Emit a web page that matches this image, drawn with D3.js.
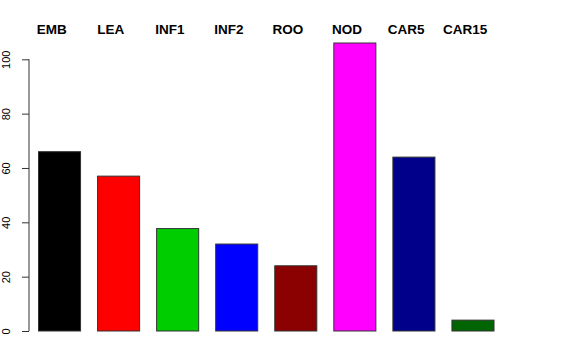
<!DOCTYPE html>
<html>
<head>
<meta charset="utf-8">
<script src="https://cdn.jsdelivr.net/npm/d3@7"></script>
<style>
  html, body { margin: 0; padding: 0; background: #ffffff; }
  svg { display: block; }
</style>
</head>
<body>
<div id="chart"></div>
<script>
const categories = ["EMB", "LEA", "INF1", "INF2", "ROO", "NOD", "CAR5", "CAR15"];
const values = [66, 57, 37.7, 32, 24, 106, 64, 4];
const colors = ["#000000", "#FF0000", "#00CD00", "#0000FF", "#8B0000", "#FF00FF", "#00008B", "#006400"];
const yTicks = [0, 20, 40, 60, 80, 100];

const W = 576, H = 360;
const svg = d3.select("#chart").append("svg")
  .attr("width", W).attr("height", H);

const x = d3.scaleBand()
  .domain(categories)
  .range([38.5, 494])
  .paddingInner(0.288)
  .paddingOuter(0);

const y = d3.scaleLinear()
  .domain([0, 100])
  .range([331, 59.3]);

// bars
svg.append("g").selectAll("rect")
  .data(categories)
  .join("rect")
  .attr("x", d => x(d))
  .attr("width", x.bandwidth())
  .attr("y", (d, i) => y(values[i]))
  .attr("height", (d, i) => y(0) - y(values[i]))
  .attr("fill", (d, i) => colors[i])
  .attr("stroke", "#333333")
  .attr("stroke-width", 1);

// y axis
const axis = d3.axisLeft(y).tickValues(yTicks).tickSize(7).tickPadding(0).tickFormat(d3.format("d"));
const gAxis = svg.append("g")
  .attr("transform", "translate(29,0)")
  .call(axis);
gAxis.select(".domain")
  .attr("d", `M0,${y(0)}V${y(100)}`)
  .attr("stroke", "#333333");
gAxis.selectAll(".tick line").attr("stroke", "#333333");
gAxis.selectAll(".tick text")
  .attr("x", null).attr("dy", null)
  .attr("transform", "translate(-19.5,0) rotate(-90)")
  .attr("text-anchor", "middle")
  .attr("font-family", "Liberation Sans, Arial, Helvetica, sans-serif")
  .attr("font-size", 11)
  .attr("fill", "#000000");

// category labels on top
svg.append("g").selectAll("text")
  .data(categories)
  .join("text")
  .attr("x", d => x(d) + x.bandwidth() / 2 - 7.8)
  .attr("y", 34.4)
  .attr("text-anchor", "middle")
  .attr("font-family", "Liberation Sans, Arial, Helvetica, sans-serif")
  .attr("font-weight", "bold")
  .attr("font-size", 13.5)
  .attr("fill", "#000000")
  .text(d => d);
</script>
</body>
</html>
